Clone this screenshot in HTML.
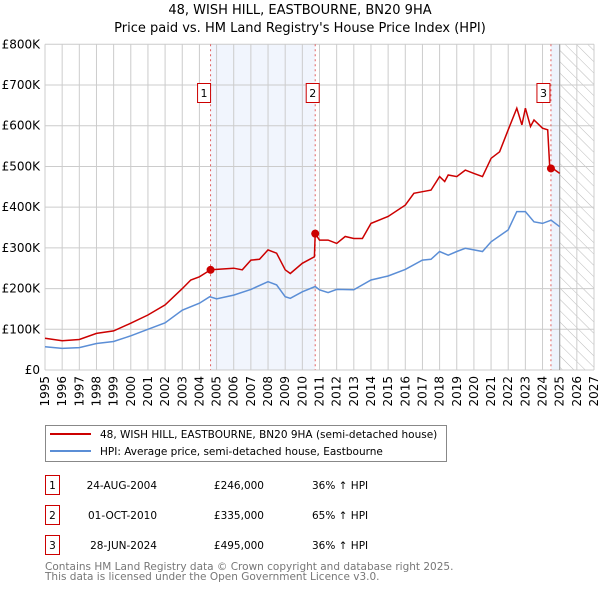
<!DOCTYPE html>
<html><head><meta charset="utf-8"><style>
body{margin:0;background:#fff;font-family:"DejaVu Sans","Liberation Sans",sans-serif;}
svg text{font-family:"DejaVu Sans","Liberation Sans",sans-serif;}
</style></head><body>
<svg id="c" width="600" height="590" xmlns="http://www.w3.org/2000/svg">
<defs><pattern id="hatch" width="8" height="8" patternUnits="userSpaceOnUse" patternTransform="rotate(-45)"><line x1="0" y1="0" x2="0" y2="8" stroke="#bbb" stroke-width="1"/></pattern></defs>
<text x="300" y="14" text-anchor="middle" font-size="13">48, WISH HILL, EASTBOURNE, BN20 9HA</text>
<text x="300" y="32" text-anchor="middle" font-size="13">Price paid vs. HM Land Registry's House Price Index (HPI)</text>
<g id="plot"></g>
<g>
<rect x="45.5" y="425.5" width="401" height="36" fill="#fff" stroke="#888"/>
<line x1="50" y1="434" x2="91" y2="434" stroke="#cc0000" stroke-width="2"/>
<text x="100" y="438" font-size="10.5">48, WISH HILL, EASTBOURNE, BN20 9HA (semi-detached house)</text>
<line x1="50" y1="451" x2="91" y2="451" stroke="#5b8ed6" stroke-width="2"/>
<text x="100" y="455" font-size="10.5">HPI: Average price, semi-detached house, Eastbourne</text>
</g>
<g id="table" font-size="10.5"></g>
<text x="45" y="570" font-size="10.5" fill="#777">Contains HM Land Registry data © Crown copyright and database right 2025.</text>
<text x="45" y="580" font-size="10.5" fill="#777">This data is licensed under the Open Government Licence v3.0.</text>
</svg>
<script>
const yearTicks=[1995,1996,1997,1998,1999,2000,2001,2002,2003,2004,2005,2006,2007,2008,2009,2010,2011,2012,2013,2014,2015,2016,2017,2018,2019,2020,2021,2022,2023,2024,2025,2026,2027];
const valueTicks=[0,100,200,300,400,500,600,700,800];
const valueLabels=["£0","£100K","£200K","£300K","£400K","£500K","£600K","£700K","£800K"];
const hpiYears=[1995,1996,1997,1998,1999,2000,2001,2002,2003,2004,2004.6,2005,2006,2007,2008,2008.5,2009,2009.3,2010,2010.75,2011,2011.5,2012,2013,2014,2015,2016,2017,2017.5,2018,2018.5,2019,2019.5,2020,2020.5,2021,2022,2022.5,2023,2023.5,2024,2024.5,2025];
const hpiValues=[57,53,55,65,70,84,100,116,147,164,180,175,184,198,217,209,180,176,192,205,197,190,198,197,221,231,247,270,272,291,282,291,299,295,291,315,344,389,389,364,360,368,352];
const priceYears=[1995,1996,1997,1998,1999,2000,2001,2002,2003,2003.5,2004,2004.65,2005,2006,2006.5,2007,2007.5,2008,2008.5,2009,2009.3,2010,2010.7,2010.75,2011,2011.5,2012,2012.5,2013,2013.5,2014,2015,2016,2016.5,2017,2017.5,2018,2018.3,2018.5,2019,2019.5,2020,2020.5,2021,2021.5,2022,2022.5,2022.8,2023,2023.3,2023.5,2024,2024.3,2024.42,2024.5,2025];
const priceValues=[78,72,75,90,96,115,135,160,200,221,229,246,247,250,246,270,272,295,287,246,237,262,278,335,319,319,311,328,323,323,360,377,405,434,438,442,475,463,479,475,491,483,475,520,536,590,643,602,643,598,614,594,590,500,498,483];
const saleLabels=["1","2","3"];
const saleYears=[2004.65,2010.75,2024.49];
const saleValues=[246,335,495];
const saleDates=["24-AUG-2004","01-OCT-2010","28-JUN-2024"];
const salePrices=["£246,000","£335,000","£495,000"];
const saleHpi=["36% ↑ HPI","65% ↑ HPI","36% ↑ HPI"];

const NS="http://www.w3.org/2000/svg";
const X0=45,X1=594,Y0=370,Y1=44.3;
const xs=y=>X0+(y-1995)*(X1-X0)/32;
const ys=v=>Y0-v*(Y0-Y1)/800;
function mk(tag,attrs,parent,text){const e=document.createElementNS(NS,tag);for(const k in attrs)e.setAttribute(k,attrs[k]);if(text!==undefined)e.textContent=text;parent.appendChild(e);return e;}
const plot=document.getElementById('plot');
let e=mk('rect',{x:xs(saleYears[0]),y:Y1,width:xs(saleYears[1])-xs(saleYears[0]),height:Y0-Y1,fill:'#eef3fc',opacity:0.8},plot);


e=mk('rect',{x:xs(saleYears[2]),y:Y1,width:xs(2025)-xs(saleYears[2]),height:Y0-Y1,fill:'#eef3fc'},plot);


e=mk('rect',{x:xs(2025),y:Y1,width:X1-xs(2025),height:Y0-Y1,fill:'url(#hatch)'},plot);


yearTicks.forEach(y=>{const l=mk('line',{x1:xs(y),x2:xs(y),y1:Y1,y2:Y0,stroke:'#ccc'},plot);


const t=mk('text',{x:0,y:0,'font-size':12,'text-anchor':'end',transform:`translate(${xs(y)+4},${Y0+6}) rotate(-90)`},plot,String(y));

});
valueTicks.forEach((v,i)=>{const l=mk('line',{x1:X0,x2:X1,y1:ys(v),y2:ys(v),stroke:'#ccc'},plot);


const t=mk('text',{x:40,y:ys(v)+4,'font-size':12,'text-anchor':'end'},plot,valueLabels[i]);

});
e=mk('line',{x1:xs(2025),x2:xs(2025),y1:Y1,y2:Y0,stroke:'#999'},plot);


saleYears.forEach((y,i)=>{const l=mk('line',{x1:xs(y),x2:xs(y),y1:Y1,y2:Y0,stroke:'#e06060','stroke-dasharray':'2,3'},plot);


const bx=xs(y)-(i==1?-1:i==2?4:3)-10;
const g=mk('g',{},plot);


mk('rect',{x:bx,y:83.5,width:13,height:19,fill:'#fff',stroke:'#cc0000'},g);
mk('text',{x:bx+6.5,y:97,'font-size':11,'text-anchor':'middle'},g,saleLabels[i]);});
function path(xa,va){return xa.map((y,i)=>(i?'L':'M')+xs(y).toFixed(1)+','+ys(va[i]).toFixed(1)).join('');}
e=mk('path',{d:path(hpiYears,hpiValues),fill:'none',stroke:'#5b8ed6','stroke-width':1.5},plot);


e=mk('path',{d:path(priceYears,priceValues),fill:'none',stroke:'#cc0000','stroke-width':1.5},plot);


saleYears.forEach((y,i)=>{const c=mk('circle',{cx:xs(y),cy:ys(saleValues[i]),r:4,fill:'#cc0000'},plot);

});
const tb=document.getElementById('table');
saleLabels.forEach((s,i)=>{const yy=483+i*30;const g=mk('g',{},tb);


mk('rect',{x:45.5,y:yy-7.5,width:14,height:19,fill:'#fff',stroke:'#cc0000'},g);
mk('text',{x:52.5,y:yy+6,'text-anchor':'middle'},g,s);
mk('text',{x:157,y:yy+6,'text-anchor':'end'},g,saleDates[i]);
mk('text',{x:264,y:yy+6,'text-anchor':'end'},g,salePrices[i]);
mk('text',{x:312,y:yy+6},g,saleHpi[i]);});
</script>
</body></html>
